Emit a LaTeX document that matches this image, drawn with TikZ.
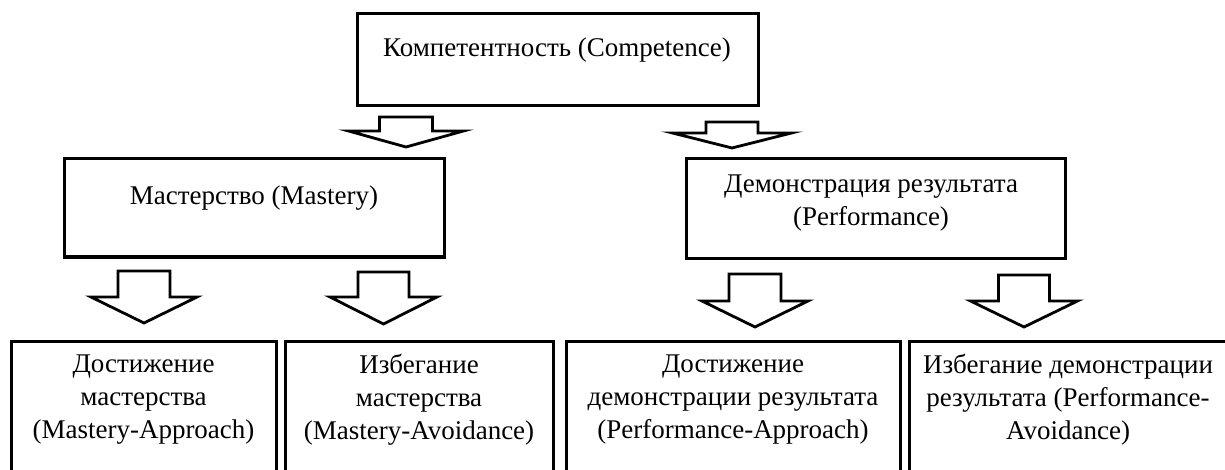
\documentclass[tikz,border=0pt]{standalone}
\usepackage{fontspec}
\setmainfont{Liberation Serif}
\usepackage{tikz}

% hollow block arrow: centre x, top, shaft half width, head y, head half width, tip y
\newcommand{\blockarrow}[6]{%
	\draw[blockline] (#1-#3,#2) -- (#1+#3,#2) -- (#1+#3,#4) -- (#1+#5,#4) -- (#1,#6)
		-- (#1-#5,#4) -- (#1-#3,#4) -- cycle;}

\begin{document}
\begin{tikzpicture}[x=1pt, y=-1pt,
	box/.style={rectangle, draw=black, line width=3pt, inner sep=0pt},
	lbl/.style={black, align=center, inner sep=0pt, font=\fontsize{27}{33}\selectfont},
	blockline/.style={draw=black, line width=2.8pt, line join=miter, fill=white}]
		
		\useasboundingbox (0,0) rectangle (1225,470);
		\clip (0,0) rectangle (1225,470);
		
		% Top level
		\node[box, minimum width=401pt, minimum height=92pt] (comp) at (557.5,60) {};
		\node[lbl] (compt) at (557,50) {Компетентность (Competence)};
		
		% Second level
		\node[box, minimum width=380pt, minimum height=98pt] (mast) at (254,208) {};
		\node[lbl] (mastt) at (254,198) {Мастерство (Mastery)};
		\node[box, minimum width=379pt, minimum height=99pt] (perf) at (875.5,208.5) {};
		\node[lbl] (perft) at (871,203.5) {Демонстрация результата\\(Performance)};
		
		% Third level (runs past the lower edge)
		\node[box, minimum width=265pt, minimum height=200pt] (mapp) at (143.5,441) {};
		\node[lbl] (mappt) at (143.5,399.5) {Достижение\\мастерства\\(Mastery-Approach)};
		\node[box, minimum width=268pt, minimum height=200pt] (mavo) at (419,441) {};
		\node[lbl] (mavot) at (419,399.5) {Избегание\\мастерства\\(Mastery-Avoidance)};
		\node[box, minimum width=334pt, minimum height=200pt] (papp) at (733,441) {};
		\node[lbl] (pappt) at (733,399.5) {Достижение\\демонстрации результата\\(Performance-Approach)};
		\node[box, minimum width=400pt, minimum height=200pt] (pavo) at (1109,441) {};
		\node[lbl] (pavot) at (1068,399.5) {Избегание демонстрации\\результата (Performance-\\Avoidance)};
		
		% Arrows
		\blockarrow{406}{117}{26.5}{131}{57.5}{147}
		\blockarrow{732}{122}{26}{133}{59.5}{148}
		\blockarrow{144}{271}{26}{297}{53}{323}
		\blockarrow{383.5}{272}{25.5}{297}{53.5}{324}
		\blockarrow{755}{274}{26}{301}{53}{327}
		\blockarrow{1024}{275}{25.5}{301}{53.5}{327}
		
	\end{tikzpicture}
\end{document}
